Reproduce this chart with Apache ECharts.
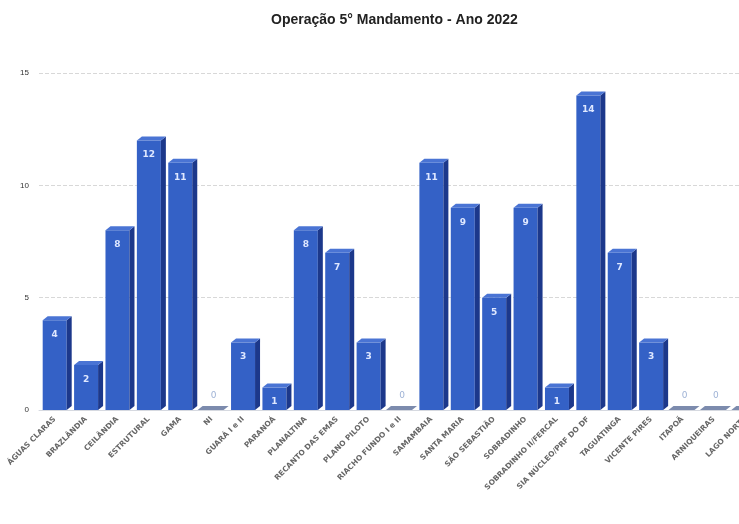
<!DOCTYPE html>
<html>
<head>
<meta charset="utf-8">
<script src="https://cdn.jsdelivr.net/npm/echarts@6/dist/echarts.min.js"></script>
<style>
  html, body { margin: 0; padding: 0; background: #fff; }
  #chart { width: 739px; height: 524px; }
</style>
</head>
<body>
<div id="chart"></div>
<script>
var regioes = [
    'ÁGUAS CLARAS', 'BRAZLÂNDIA', 'CEILÂNDIA', 'ESTRUTURAL', 'GAMA', 'NI',
    'GUARÁ I e II', 'PARANOÁ', 'PLANALTINA', 'RECANTO DAS EMAS', 'PLANO PILOTO',
    'RIACHO FUNDO I e II', 'SAMAMBAIA', 'SANTA MARIA', 'SÃO SEBASTIÃO', 'SOBRADINHO',
    'SOBRADINHO II/FERCAL', 'SIA NÚCLEO/PRF DO DF', 'TAGUATINGA', 'VICENTE PIRES',
    'ITAPOÃ', 'ARNIQUEIRAS', 'LAGO NORTE'
];
var ocorrencias = [4, 2, 8, 12, 11, 0, 3, 1, 8, 7, 3, 0, 11, 9, 5, 9, 1, 14, 7, 3, 0, 0, 0];
var yTicks = [0, 5, 10, 15];

var frente = '#3461c6';
var lado = '#1c388b';
var topo = '#4a74d4';

// barra "3D": face frontal + lateral + topo
function renderBar(params, api) {
    var v = api.value(1);
    var base = api.coord([api.value(0), 0]);
    var top = api.coord([api.value(0), v]);
    var w = 24, dx = 5, dy = 4;
    var x0 = base[0] - w / 2;
    var h = base[1] - top[1];
    var children = [
        { type: 'polygon', shape: { points: [[x0 + w, top[1]], [x0 + w + dx, top[1] - dy], [x0 + w + dx, base[1] - dy], [x0 + w, base[1]]] },
          style: { fill: v > 0 ? lado : '#56698f' } },
        { type: 'polygon', shape: { points: [[x0 - 2, top[1]], [x0 + dx - 2, top[1] - dy], [x0 + w + dx, top[1] - dy], [x0 + w, top[1]]] },
          style: { fill: v > 0 ? topo : '#7c8bad' } }
    ];
    if (v > 0) {
        children[1].shape.points[0][0] = x0;
        children[1].shape.points[1][0] = x0 + dx;
        children.unshift({ type: 'rect', shape: { x: x0, y: top[1], width: w, height: h }, style: { fill: frente } });
        children.push({ type: 'text', style: { text: String(v), x: base[0], y: top[1] + 10, align: 'center', verticalAlign: 'top',
            fill: '#dfe8ff', font: 'bold 9px "DejaVu Sans"' } });
    } else {
        children.push({ type: 'text', style: { text: '0', x: base[0] + 2, y: base[1] - 10, align: 'center', verticalAlign: 'bottom',
            fill: '#9fb3d6', font: '9px "DejaVu Sans"' } });
    }
    return { type: 'group', children: children };
}

var dados = ocorrencias.map(function (v, i) { return [i, v]; });

var chart = echarts.init(document.getElementById('chart'));
chart.setOption({
    animation: false,
    title: {
        text: 'Operação 5° Mandamento - Ano 2022',
        left: 266,
        top: 8,
        textStyle: { fontSize: 14, fontWeight: 'bold', color: '#222', fontFamily: 'Liberation Sans' }
    },
    grid: { left: 39, right: -22, top: 73, bottom: 114, outerBoundsMode: 'none' },
    xAxis: {
        type: 'category',
        data: regioes,
        axisLine: { show: true, lineStyle: { color: '#d6d9e0' } },
        axisTick: { show: false },
        axisLabel: { interval: 0, rotate: 45, fontSize: 7.5, fontWeight: 'bold', color: '#666', fontFamily: 'DejaVu Sans', margin: 8 }
    },
    yAxis: {
        type: 'value',
        min: 0,
        max: 15,
        interval: 5,
        axisLine: { show: false },
        axisTick: { show: false },
        axisLabel: { fontSize: 8, color: '#333', margin: 10,
            formatter: function (v) { return yTicks.indexOf(v) >= 0 ? String(v) : ''; } },
        splitLine: { lineStyle: { color: '#d8d8d8', type: 'dashed' } }
    },
    series: [{
        type: 'custom',
        renderItem: renderBar,
        data: dados,
        clip: false
    }]
});
</script>
</body>
</html>
